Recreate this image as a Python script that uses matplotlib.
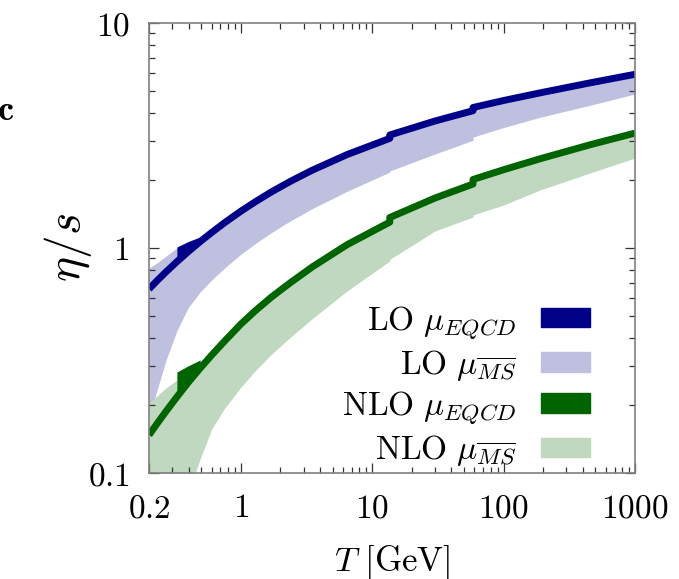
import numpy as np
import matplotlib
matplotlib.use("Agg")
import matplotlib.pyplot as plt
from matplotlib.patches import Patch

plt.rcParams['mathtext.fontset'] = 'cm'
plt.rcParams['font.family'] = 'serif'
plt.rcParams['font.serif'] = ['DejaVu Serif']

# temperatura (GeV) - pontos repetidos marcam os saltos nos limiares
T = [0.2, 0.23, 0.27, 0.326, 0.4, 0.49, 0.6, 0.75, 1.0, 1.28, 1.7, 2.37, 3.5,
     6.43, 13.6, 13.6, 30, 58.5, 58.5, 100, 189, 454, 1000]

# LO com mu_EQCD (curva central)
lo_eqcd = [0.657, 0.715, 0.784, 0.869, 0.966, 1.067, 1.172, 1.294, 1.457, 1.601, 1.772,
           1.975, 2.218, 2.601, 3.07, 3.178, 3.667, 4.076, 4.212, 4.524, 4.891, 5.418, 5.916]
# LO com mu_MSbar (faixa)
lo_ms_hi = [0.815, 0.858, 0.921, 1.0, 1.0, 1.067, 1.172, 1.294, 1.457, 1.601, 1.772,
            1.975, 2.218, 2.601, 3.07, 3.178, 3.667, 4.076, 4.212, 4.524, 4.891, 5.418, 5.916]
lo_ms_lo = [0.174, 0.233, 0.318, 0.429, 0.546, 0.637, 0.721, 0.814, 0.938, 1.044, 1.168,
            1.318, 1.497, 1.786, 2.175, 2.20, 2.617, 3.011, 3.113, 3.432, 3.809, 4.308, 4.835]

# NLO com mu_EQCD (curva central)
nlo_eqcd = [0.1475, 0.1655, 0.1882, 0.2177, 0.2535, 0.2922, 0.3342, 0.3849, 0.4589, 0.5242,
            0.6037, 0.6996, 0.8241, 1.034, 1.303, 1.366, 1.667, 1.924, 2.016, 2.228, 2.491,
            2.875, 3.241]
# NLO com mu_MSbar (faixa)
nlo_ms_hi = [0.2045, 0.22, 0.239, 0.259, 0.265, 0.2922, 0.3342, 0.3849, 0.4589, 0.5242,
             0.6037, 0.6996, 0.8241, 1.034, 1.303, 1.366, 1.667, 1.924, 2.016, 2.228, 2.491,
             2.875, 3.241]
nlo_ms_lo = [0.0152, 0.0229, 0.0349, 0.0541, 0.0823, 0.1154, 0.1569, 0.1935, 0.2406, 0.2837,
             0.3359, 0.4001, 0.4856, 0.6439, 0.876, 0.89, 1.19, 1.373, 1.402, 1.553, 1.81,
             2.154, 2.512]

# degrau na faixa EQCD logo acima de T ~ 0.33 GeV
T_salto = [0.326, 0.4, 0.49]
lo_salto = [1.01, 1.07, 1.12]
nlo_salto = [0.281, 0.30, 0.318]

xticks = [0.2, 1, 10, 100, 1000]
xlabels = ['$0.2$', '$1$', '$10$', '$100$', '$1000$']
yticks = [0.1, 1, 10]
ylabels = ['$0.1$', '$1$', '$10$']

azul = '#000088'
azul_claro = '#bfbfe0'
verde = '#006400'
verde_claro = '#bfd8bf'

fig = plt.figure(figsize=(6.79, 5.79), dpi=100)
ax = fig.add_axes([149/679, 1 - 473/579, 486/679, 450/579])

ax.fill_between(T, lo_ms_lo, lo_ms_hi, color=azul_claro, lw=0)
ax.fill_between(T, nlo_ms_lo, nlo_ms_hi, color=verde_claro, lw=0)

ax.fill_between(T_salto, lo_eqcd[3:6], lo_salto, color=azul, lw=0)
ax.fill_between(T_salto, nlo_eqcd[3:6], nlo_salto, color=verde, lw=0)
ax.plot(T, lo_eqcd, color=azul, lw=5, solid_capstyle='butt')
ax.plot(T, nlo_eqcd, color=verde, lw=5, solid_capstyle='butt')

ax.set_xscale('log')
ax.set_yscale('log')
ax.set_xlim(0.2, 1000)
ax.set_ylim(0.1, 10)
ax.set_xticks(xticks)
ax.set_xticklabels(xlabels)
ax.set_yticks(yticks)
ax.set_yticklabels(ylabels)

for s in ax.spines.values():
    s.set_color('#808080')
    s.set_linewidth(1.2)
ax.tick_params(which='both', direction='in', top=True, right=True,
               color='#333333', width=0.9, labelsize=24, pad=14)
ax.tick_params(which='major', length=7)
ax.tick_params(which='minor', length=4)

ax.set_xlabel(r'$T\ [\mathrm{GeV}]$', fontsize=25)
ax.xaxis.set_label_coords(0.5, -0.155)
ax.set_ylabel(r'$\eta/s$', fontsize=34)
ax.yaxis.set_label_coords(-0.113, 0.5)

handles = [Patch(color=azul), Patch(color=azul_claro),
           Patch(color=verde), Patch(color=verde_claro)]
nomes = [r'$\mathrm{LO}\ \mu_{EQCD}$', r'$\mathrm{LO}\ \mu_{\overline{MS}}$',
         r'$\mathrm{NLO}\ \mu_{EQCD}$', r'$\mathrm{NLO}\ \mu_{\overline{MS}}$']
ax.legend(handles, nomes, loc='lower right', bbox_to_anchor=(0.941, -0.026),
          frameon=False, markerfirst=False, fontsize=24, borderpad=0,
          handlelength=1.45, handleheight=0.52, handletextpad=0.75,
          labelspacing=0.2)

# resto do titulo do painel vizinho
fig.text(14/679, 1 - 110/579, r'$\mathbf{oc}$', fontsize=26, ha='right', va='center')

fig.savefig('out.png', dpi=100)
